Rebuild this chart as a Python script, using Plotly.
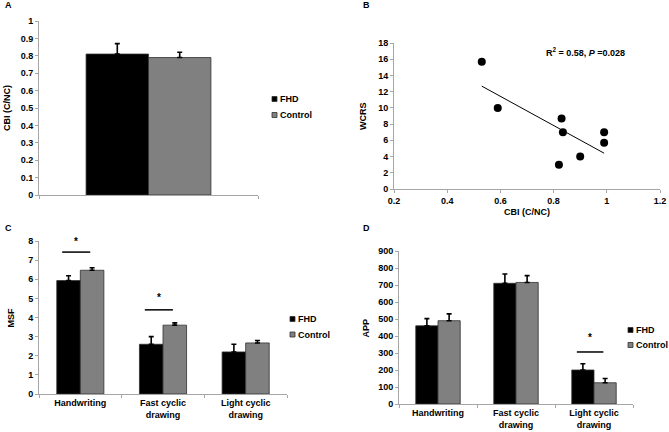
import numpy as np
import plotly.graph_objects as go

# ---------------- data ----------------
groups = ["FHD", "Control"]
colors = {"FHD": "#000000", "Control": "#808080"}

# Panel A
a_cats = [""]
a_fhd = [0.81]
a_fhd_err = [0.06]
a_ctl = [0.79]
a_ctl_err = [0.03]

# Panel B
b_cbi = [0.53, 0.59, 0.82, 0.83, 0.835, 0.90, 0.99, 0.99]
b_wcrs = [15.7, 10.0, 3.0, 8.7, 7.0, 4.0, 7.0, 5.7]
b_stat = "R<sup>2</sup> = 0.58, <i>P</i> =0.028"

# Panel C / D categories
tasks = ["Handwriting", "Fast cyclic<br>drawing", "Light cyclic<br>drawing"]

c_fhd = [5.93, 2.60, 2.20]
c_fhd_err = [0.25, 0.40, 0.40]
c_ctl = [6.47, 3.60, 2.67]
c_ctl_err = [0.13, 0.12, 0.13]
c_sig_idx = [0, 1]
c_sig_line = [7.42, 4.40]
c_sig_star = [7.95, 5.02]

d_fhd = [460, 710, 200]
d_fhd_err = [42, 55, 37]
d_ctl = [490, 715, 125]
d_ctl_err = [40, 40, 25]
d_sig_idx = [2]
d_sig_line = [306]
d_sig_star = [390]

# axis titles
y_titles = ["CBI (C/NC)", "WCRS", "MSF", "APP"]
x_title_b = "CBI (C/NC)"

# ---------------- layout helpers ----------------
W, H = 669, 432
FONT = "Liberation Sans, Arial, sans-serif"
AX = "#a6a6a6"

def px_x(a, b):
    return [a / W, b / W]

def px_y(bottom, top):
    return [1 - bottom / H, 1 - top / H]

fig = go.Figure()

def add_bars(xax, yax, cats, fhd, fhd_e, ctl, ctl_e):
    for name, vals, errs in [("FHD", fhd, fhd_e), ("Control", ctl, ctl_e)]:
        fig.add_trace(go.Bar(
            x=cats, y=vals, name=name, xaxis=xax, yaxis=yax,
            marker=dict(color=colors[name], line=dict(color="#303030", width=0.8)),
            error_y=dict(type="data", array=errs, arrayminus=[0] * len(errs),
                         symmetric=False, color="#000000", thickness=1.6, width=2.5),
            showlegend=False,
        ))

add_bars("x", "y", a_cats, a_fhd, a_fhd_err, a_ctl, a_ctl_err)
add_bars("x3", "y3", tasks, c_fhd, c_fhd_err, c_ctl, c_ctl_err)
add_bars("x4", "y4", tasks, d_fhd, d_fhd_err, d_ctl, d_ctl_err)

# Panel B scatter + trend line
fig.add_trace(go.Scatter(x=b_cbi, y=b_wcrs, mode="markers", xaxis="x2", yaxis="y2",
                         marker=dict(color="#000000", size=8), showlegend=False))
slope, icpt = np.polyfit(b_cbi, b_wcrs, 1)
tx = np.array([min(b_cbi), max(b_cbi)])
fig.add_trace(go.Scatter(x=tx, y=slope * tx + icpt, mode="lines", xaxis="x2", yaxis="y2",
                         line=dict(color="#000000", width=1), showlegend=False))

tickfont = dict(family=FONT, size=9, color="#000000", weight="bold")
titlefont = dict(family=FONT, size=9, color="#000000", weight="bold")

def ax(domain, anchor, **kw):
    d = dict(domain=domain, anchor=anchor, showline=True, linecolor=AX, linewidth=1,
             ticks="outside", ticklen=3, tickcolor=AX, showgrid=False, zeroline=False,
             tickfont=tickfont, fixedrange=True, automargin=False)
    d.update(kw)
    return d

dom_a = (px_x(39, 258), px_y(195, 21))
dom_b = (px_x(394, 660), px_y(189, 43))
dom_c = (px_x(39, 287), px_y(394, 241))
dom_d = (px_x(399, 633), px_y(404, 251))

fig.update_layout(
    width=W, height=H, margin=dict(l=0, r=0, t=0, b=0, autoexpand=False),
    paper_bgcolor="white", plot_bgcolor="white",
    barmode="group", bargap=0.43, bargroupgap=0,
    font=dict(family=FONT, size=9, color="#000000"),
    showlegend=False,
    xaxis=ax(dom_a[0], "y", type="category", tickson="boundaries", showticklabels=False),
    yaxis=ax(dom_a[1], "x", range=[0, 1], dtick=0.1),
    xaxis2=ax(dom_b[0], "y2", range=[0.2, 1.2], dtick=0.2,
              title=dict(text=x_title_b, font=titlefont, standoff=3)),
    yaxis2=ax(dom_b[1], "x2", range=[0, 18], dtick=2),
    xaxis3=ax(dom_c[0], "y3", type="category", tickson="boundaries"),
    yaxis3=ax(dom_c[1], "x3", range=[0, 8], dtick=1),
    xaxis4=ax(dom_d[0], "y4", type="category", tickson="boundaries"),
    yaxis4=ax(dom_d[1], "x4", range=[0, 900], dtick=100),
)

# y-axis titles (rotated), placed left of each panel's tick labels
for title, xpx, dom in zip(y_titles, [7, 363, 10, 365], [dom_a, dom_b, dom_c, dom_d]):
    fig.add_annotation(xref="paper", yref="paper", x=xpx / W, y=sum(dom[1]) / 2,
                       text=title, textangle=-90, showarrow=False,
                       xanchor="center", yanchor="middle", font=titlefont)

# manual legends (small square keys like the reference)
def add_legend(x_key, y_first, step=16):
    for k, g in enumerate(groups):
        yc = y_first + k * step
        fig.add_shape(type="rect", xref="paper", yref="paper",
                      x0=x_key / W, x1=(x_key + 5) / W,
                      y0=1 - (yc + 2.5) / H, y1=1 - (yc - 2.5) / H,
                      fillcolor=colors[g], line=dict(color="#303030", width=0.8))
        fig.add_annotation(xref="paper", yref="paper", x=(x_key + 6) / W, y=1 - yc / H,
                           text=g, showarrow=False, xanchor="left", yanchor="middle",
                           font=dict(family=FONT, size=9, weight="bold", color="#000000"))

add_legend(272, 99)
add_legend(290, 319, 15.5)
add_legend(628, 330, 15)

# significance markers
def add_sig(xref, yref, idxs, lines, stars):
    for i, yl, ys in zip(idxs, lines, stars):
        fig.add_shape(type="line", xref=xref, yref=yref, x0=i - 0.22, x1=i + 0.12,
                      y0=yl, y1=yl, line=dict(color="#000000", width=1.5))
        fig.add_annotation(xref=xref, yref=yref, x=i - 0.05, y=ys, text="*",
                           showarrow=False, font=dict(family=FONT, size=10, weight="bold"))

add_sig("x3", "y3", c_sig_idx, c_sig_line, c_sig_star)
add_sig("x4", "y4", d_sig_idx, d_sig_line, d_sig_star)

fig.add_annotation(xref="x2", yref="y2", x=0.92, y=16.9, text=b_stat, showarrow=False,
                   font=dict(family=FONT, size=9, weight="bold", color="#000000"))

# panel letters
for letter, x, y in [("A", 3, 5), ("B", 361, 5), ("C", 3, 228), ("D", 361, 228)]:
    fig.add_annotation(xref="paper", yref="paper", x=x / W, y=1 - y / H, text=letter,
                       showarrow=False, xanchor="left", yanchor="middle",
                       font=dict(family=FONT, size=9, weight="bold", color="#000000"))

fig.write_html(
    "out.html",
    config={"displayModeBar": False, "staticPlot": True},
    post_script="document.body.style.margin='0';document.body.style.padding='0';",
)
